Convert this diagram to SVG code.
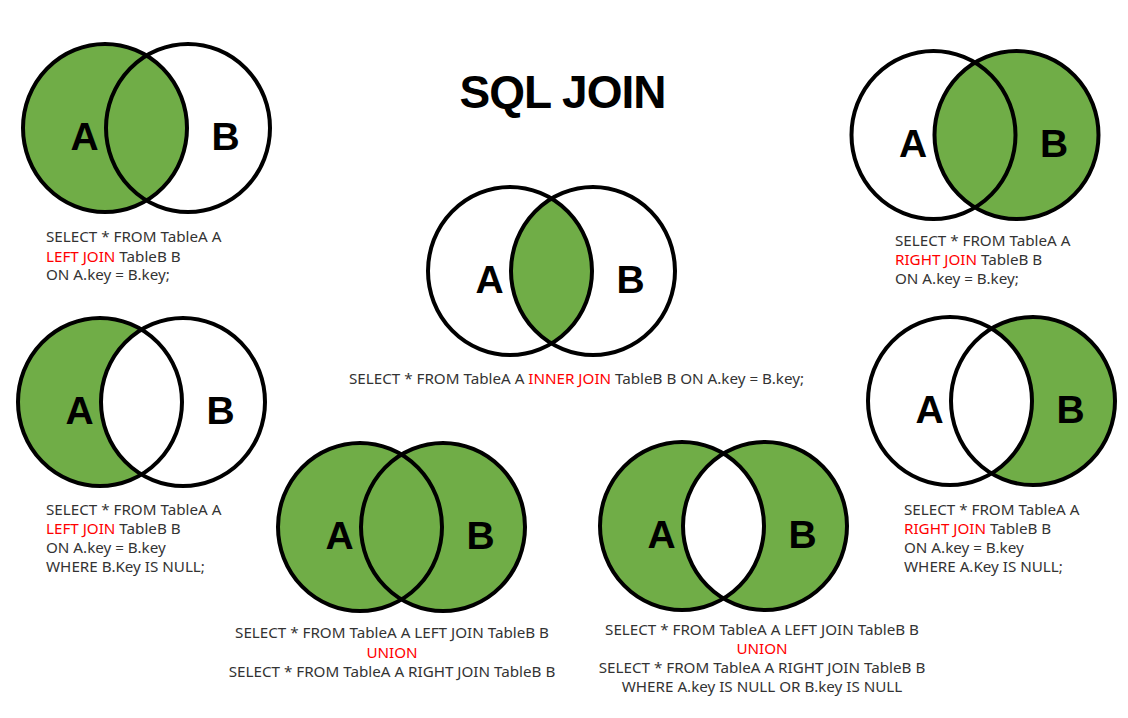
<svg xmlns="http://www.w3.org/2000/svg" width="1128" height="718" viewBox="0 0 1128 718">
<style>
.bg{fill:#ffffff}
.ring{fill:none;stroke:#000;stroke-width:4}
.g{fill:#70AD47}
.w{fill:#ffffff}
.lbl{font-family:"Liberation Sans",Arial,sans-serif;font-weight:bold;font-size:39px;fill:#000;text-anchor:middle}
.sql{font-family:"Noto Sans","Liberation Sans",sans-serif;font-size:15.2px;fill:#333}
.mid{text-anchor:middle}
.red{fill:#ff0000}
.title{font-family:"Liberation Sans",Arial,sans-serif;font-weight:900;font-size:46px;fill:#000;text-anchor:middle}
</style>
<defs>
<ellipse id="ca" cx="-41.5" cy="0" rx="82" ry="84"/>
<ellipse id="cb" cx="41.5" cy="0" rx="82" ry="84"/>
<clipPath id="clipA"><use href="#ca"/></clipPath>
<g id="rings">
<use href="#ca" class="ring"/>
<use href="#cb" class="ring"/>
<text class="lbl" x="-62" y="22">A</text>
<text class="lbl" x="79" y="22">B</text>
</g>
</defs>
<rect class="bg" x="0" y="0" width="1128" height="718"/>
<text id="title" class="title" x="563" y="108" textLength="207">SQL JOIN</text>

<g id="left-join" transform="translate(146.5,128)">
<use href="#ca" class="g"/>
<use href="#rings"/>
</g>
<text class="sql" x="46" y="242">SELECT * FROM TableA A</text>
<text class="sql" x="46" y="262"><tspan class="red">LEFT JOIN</tspan> TableB B</text>
<text class="sql" x="46" y="280">ON A.key = B.key;</text>

<g id="inner-join" transform="translate(551.5,271)">
<use href="#cb" class="g" clip-path="url(#clipA)"/>
<use href="#rings"/>
</g>
<text class="sql" x="349" y="384">SELECT * FROM TableA A <tspan class="red">INNER JOIN</tspan> TableB B ON A.key = B.key;</text>

<g id="right-join" transform="translate(975,135)">
<use href="#cb" class="g"/>
<use href="#rings"/>
</g>
<text class="sql" x="895" y="246">SELECT * FROM TableA A</text>
<text class="sql" x="895" y="265"><tspan class="red">RIGHT JOIN</tspan> TableB B</text>
<text class="sql" x="895" y="284">ON A.key = B.key;</text>

<g id="left-only" transform="translate(141.5,402)">
<use href="#ca" class="g"/>
<use href="#cb" class="w" clip-path="url(#clipA)"/>
<use href="#rings"/>
</g>
<text class="sql" x="46" y="515">SELECT * FROM TableA A</text>
<text class="sql" x="46" y="534"><tspan class="red">LEFT JOIN</tspan> TableB B</text>
<text class="sql" x="46" y="553">ON A.key = B.key</text>
<text class="sql" x="46" y="572">WHERE B.Key IS NULL;</text>

<g id="right-only" transform="translate(991.5,401)">
<use href="#cb" class="g"/>
<use href="#ca" class="w"/>
<use href="#rings"/>
</g>
<text class="sql" x="904" y="515">SELECT * FROM TableA A</text>
<text class="sql" x="904" y="534"><tspan class="red">RIGHT JOIN</tspan> TableB B</text>
<text class="sql" x="904" y="553">ON A.key = B.key</text>
<text class="sql" x="904" y="572">WHERE A.Key IS NULL;</text>

<g id="full-join" transform="translate(401.5,527)">
<use href="#ca" class="g"/>
<use href="#cb" class="g"/>
<use href="#rings"/>
</g>
<text class="sql mid" x="392" y="638">SELECT * FROM TableA A LEFT JOIN TableB B</text>
<text class="sql mid red" x="392" y="658">UNION</text>
<text class="sql mid" x="392" y="677">SELECT * FROM TableA A RIGHT JOIN TableB B</text>

<g id="full-outer-excl" transform="translate(723.5,526)">
<use href="#ca" class="g"/>
<use href="#cb" class="g"/>
<use href="#cb" class="w" clip-path="url(#clipA)"/>
<use href="#rings"/>
</g>
<text class="sql mid" x="762" y="635">SELECT * FROM TableA A LEFT JOIN TableB B</text>
<text class="sql mid red" x="762" y="654">UNION</text>
<text class="sql mid" x="762" y="673">SELECT * FROM TableA A RIGHT JOIN TableB B</text>
<text class="sql mid" x="762" y="692">WHERE A.key IS NULL OR B.key IS NULL</text>
</svg>
